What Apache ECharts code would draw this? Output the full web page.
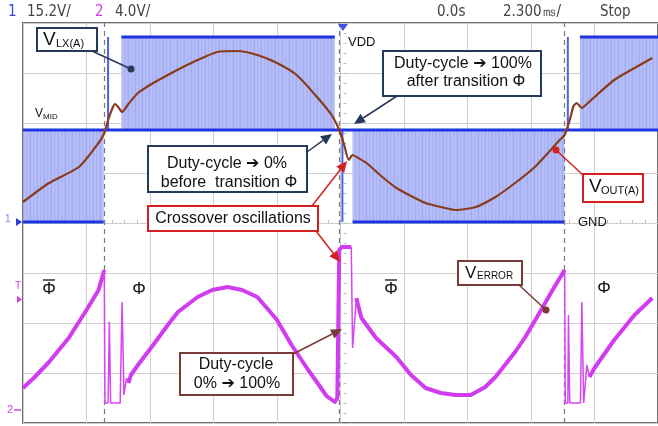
<!DOCTYPE html>
<html>
<head>
<meta charset="utf-8">
<script src="https://cdn.jsdelivr.net/npm/echarts@6/dist/echarts.min.js"></script>
<style>
  html, body { margin: 0; padding: 0; background: #fff; }
  #chart { width: 658px; height: 426px; }
</style>
</head>
<body>
<div id="chart"></div>
<script>
// screen units: x in divisions (0..10), y in divisions (0 = bottom, 8 = top)
var transitions = [1.28, 4.98, 8.53];
var VDD = 7.72, VMID = 5.86, GND = 4.02;

// switching node envelope: [x0, x1, yLow, yHigh]
var lxBands = [
  [0.00, 1.27, GND, VMID],
  [1.55, 4.91, VMID, VDD],
  [5.19, 8.53, GND, VMID],
  [8.77, 10.0, VMID, VDD]
];
// solid rails: [x0, x1, y]
var lxRails = [
  [0.00, 10.0, VMID],
  [0.00, 1.27, GND],
  [1.55, 4.91, VDD],
  [5.19, 8.53, GND],
  [8.77, 10.0, VDD]
];
// isolated pulses at the transitions: [x, y0, y1]
var lxSpikes = [
  [1.34, VMID, VDD],
  [5.03, GND, VMID],
  [8.58, VMID, VDD]
];

var voutX = [0, 0.41, 0.88, 1.19, 1.28, 1.34, 1.41, 1.45, 1.50, 1.56, 1.66, 1.81, 2.05, 2.28, 2.52, 2.75,
  3.06, 3.38, 3.69, 4.00, 4.31, 4.63, 4.86, 4.98, 5.05, 5.13, 5.19, 5.28, 5.41, 5.64, 5.88, 6.11,
  6.34, 6.58, 6.81, 7.13, 7.44, 7.75, 8.06, 8.31, 8.45, 8.53, 8.61, 8.67, 8.72, 8.80, 8.88, 9.00,
  9.31, 9.63, 9.91];
var voutY = [4.42, 4.80, 5.12, 5.60, 5.80, 6.06, 6.30, 6.38, 6.32, 6.22, 6.38, 6.60, 6.80, 6.96, 7.12, 7.26,
  7.42, 7.44, 7.36, 7.20, 6.96, 6.52, 6.16, 5.86, 5.60, 5.26, 5.36, 5.30, 5.20, 4.94, 4.70, 4.54,
  4.40, 4.32, 4.26, 4.32, 4.52, 4.80, 5.12, 5.46, 5.66, 5.76, 6.06, 6.34, 6.40, 6.30, 6.38, 6.52,
  6.86, 7.10, 7.30];

// error amplifier output, smooth parts (null = break)
var verrX = [0, 0.17, 0.41, 0.72, 1.00, 1.19, 1.28, null,
  1.66, 1.70, 1.81, 2.05, 2.28, 2.44, 2.75, 2.98, 3.22, 3.45, 3.69, 3.84, 4.00, 4.23, 4.47, 4.66, 4.78,
  4.91, 4.95, 4.98, 5.02, 5.17, null,
  5.25, 5.28, 5.33, 5.56, 5.88, 6.11, 6.34, 6.58, 6.81, 7.05,
  7.28, 7.44, 7.59, 7.75, 7.91, 8.16, 8.34, 8.53, null,
  8.92, 9.00, 9.31, 9.63, 9.91];
var verrY = [0.70, 0.90, 1.22, 1.70, 2.26, 2.66, 3.06, null,
  0.80, 0.96, 1.16, 1.56, 1.96, 2.22, 2.52, 2.66, 2.72, 2.66, 2.52, 2.30, 2.06, 1.56, 1.10, 0.76, 0.54,
  0.42, 0.50, 3.46, 3.52, 3.52, null,
  2.50, 2.34, 2.10, 1.70, 1.32, 0.96, 0.70, 0.60, 0.56, 0.56,
  0.72, 0.92, 1.16, 1.42, 1.72, 2.26, 2.66, 3.06, null,
  0.92, 1.10, 1.66, 2.16, 2.50];
// error amplifier output, fast glitches at the transitions
var glitchX = [1.28, 1.29, 1.34, 1.36, 1.38, 1.53, 1.56, 1.59, 1.63, 1.66, null,
  5.17, 5.19, 5.25, null,
  8.53, 8.54, 8.58, 8.59, 8.61, 8.78, 8.80, 8.83, 8.86, 8.88, 8.92];
var glitchY = [3.06, 0.40, 0.40, 2.02, 0.40, 0.40, 2.42, 0.56, 0.90, 0.80, null,
  3.52, 1.50, 2.50, null,
  3.06, 0.40, 0.40, 2.16, 0.40, 0.40, 2.42, 0.40, 0.40, 1.16, 0.92];

function zip(xs, ys) {
  return xs.map(function (x, i) { return x === null ? [null, null] : [x, ys[i]]; });
}

// fine vertical texture for the switching envelope
var pat = document.createElement('canvas');
pat.width = 7; pat.height = 1;
var pctx = pat.getContext('2d');
['#b6bff7', '#adb6f5', '#a3adf3', '#b4bcf6', '#b8c0f7', '#a9b2f5', '#b1baf6'].forEach(function (c, i) {
  pctx.fillStyle = c; pctx.fillRect(i, 0, 1, 1);
});

var navy = '#263a58', red = '#d42020', brown = '#7a3a36';
var ff = 'Liberation Sans, DejaVu Sans, sans-serif';
var hf = 'DejaVu Sans Condensed, DejaVu Sans, sans-serif';

function txt(x, y, s, size, color, align, family) {
  return { type: 'text', x: x, y: y, z: 20,
    style: { text: s, font: size + 'px ' + (family || ff), fill: color || '#111',
      align: align || 'left', verticalAlign: 'middle' } };
}
function box(x, y, w, h, color) {
  return { type: 'rect', z: 15, shape: { x: x, y: y, width: w, height: h },
    style: { fill: '#fff', stroke: color, lineWidth: 2 } };
}
function seg(x1, y1, x2, y2, color, w) {
  return { type: 'line', z: 14, shape: { x1: x1, y1: y1, x2: x2, y2: y2 },
    style: { stroke: color, lineWidth: w || 1.5 } };
}
function dot(x, y, color) {
  return { type: 'circle', z: 16, shape: { cx: x, cy: y, r: 3.5 }, style: { fill: color } };
}
function arrow(x1, y1, x2, y2, color) {
  var a = Math.atan2(y2 - y1, x2 - x1), L = 11, W = 5;
  var bx = x2 - L * Math.cos(a), by = y2 - L * Math.sin(a);
  return [
    seg(x1, y1, bx, by, color, 1.5),
    { type: 'polygon', z: 16, shape: { points: [[x2, y2],
      [bx + W * Math.sin(a), by - W * Math.cos(a)],
      [bx - W * Math.sin(a), by + W * Math.cos(a)]] }, style: { fill: color } }
  ];
}

var graphics = [
  // header
  txt(8, 12, '1', 15, '#3348d6', 'left', hf),
  txt(27, 12, '15.2V/', 15, '#444', 'left', hf),
  txt(95, 12, '2', 15, '#d23be6', 'left', hf),
  txt(115, 12, '4.0V/', 15, '#444', 'left', hf),
  txt(437, 12, '0.0s', 15, '#444', 'left', hf),
  txt(503, 12, '2.300㎳/', 15, '#444', 'left', hf),
  txt(600, 12, 'Stop', 15, '#444', 'left', hf),
  { type: 'polygon', z: 20, shape: { points: [[338, 24], [348, 24], [343, 31]] }, style: { fill: '#4055e0' } },
  // left channel markers
  txt(5, 219, '1', 10, '#7c8cf0'),
  { type: 'polygon', z: 20, shape: { points: [[16, 218], [22, 222], [16, 226]] }, style: { fill: '#2a3fd8' } },
  txt(15, 286, 'T', 10, '#d23be6'),
  { type: 'polygon', z: 20, shape: { points: [[17, 296], [22, 299.5], [17, 303]] }, style: { fill: '#d23be6' } },
  txt(7, 410, '2', 11, '#d23be6'),
  seg(14, 410, 21, 410, '#d23be6', 1.5),
  // VLX(A)
  box(37, 28, 60, 23, navy),
  txt(43, 40, 'V', 19, '#111'),
  txt(56, 44, 'LX(A)', 11, '#111'),
  seg(92, 51, 131, 69, navy, 1.5),
  dot(131, 69, navy),
  // VMID, VDD, GND
  txt(35, 114, 'V', 12, '#111'),
  txt(43, 117, 'MID', 8, '#111'),
  txt(348, 42, 'VDD', 13, '#111'),
  txt(578, 222, 'GND', 13, '#111'),
  // duty-cycle -> 100%
  box(383, 51, 158, 45, navy),
  txt(463, 64, 'Duty-cycle ➔ 100%', 16, '#111', 'center'),
  txt(466, 82, 'after transition Φ', 16, '#111', 'center'),
  // duty-cycle -> 0%
  box(148, 146, 159, 46, navy),
  txt(227, 164, 'Duty-cycle ➔ 0%', 16, '#111', 'center'),
  txt(229, 183, 'before  transition Φ', 16, '#111', 'center'),
  // crossover
  box(148, 206, 170, 25, red),
  txt(233, 219, 'Crossover oscillations', 16, '#111', 'center'),
  // VOUT(A)
  box(583, 174, 60, 28, red),
  txt(589, 187, 'V', 19, '#111'),
  txt(601, 191, 'OUT(A)', 11, '#111'),
  seg(584, 176, 556, 150, red, 1.5),
  dot(556, 150, red),
  // duty-cycle 0% -> 100%
  box(180, 353, 113, 42, brown),
  txt(236, 365, 'Duty-cycle', 16, '#111', 'center'),
  txt(237, 384, '0% ➔ 100%', 16, '#111', 'center'),
  // VERROR
  box(458, 261, 64, 24, brown),
  txt(465, 273, 'V', 17, '#111'),
  txt(477, 276, 'ERROR', 10, '#111'),
  seg(519, 285, 546, 310, brown, 1.5),
  dot(546, 310, brown),
  // phase labels
  txt(49, 289, 'Φ', 17, '#111', 'center'),
  seg(43, 280, 55, 280, '#111', 1.3),
  txt(139, 289, 'Φ', 17, '#111', 'center'),
  txt(391, 289, 'Φ', 17, '#111', 'center'),
  seg(385, 280, 397, 280, '#111', 1.3),
  txt(604, 288, 'Φ', 17, '#111', 'center')
];
graphics = graphics
  .concat(arrow(397, 96, 354, 124, navy))
  .concat(arrow(307, 152, 332, 134, navy))
  .concat(arrow(312, 206, 347, 161, red))
  .concat(arrow(316, 231, 340, 262, red))
  .concat(arrow(293, 354, 342, 329, brown));

var hiddenAxis = { axisLine: { show: false }, axisLabel: { show: false } };
var chart = echarts.init(document.getElementById('chart'));
chart.setOption({
  animation: false,
  grid: { left: 23, top: 23, width: 641, height: 400, show: true,
    borderColor: '#707070', borderWidth: 2, backgroundColor: 'transparent' },
  xAxis: [
    { type: 'value', min: 0, max: 10, interval: 1,
      axisLine: { show: false }, axisTick: { show: false }, axisLabel: { show: false },
      splitLine: { lineStyle: { color: '#cfcfcf', width: 1 } } },
    // graticule minor ticks on the centre line
    { type: 'value', min: 0, max: 10, interval: 1, position: 'bottom', offset: -200,
      axisLine: { show: false }, axisLabel: { show: false }, splitLine: { show: false },
      axisTick: { show: true, inside: true, length: 4, lineStyle: { color: '#bdbdbd' } },
      minorTick: { show: true, splitNumber: 5, length: 3, lineStyle: { color: '#bdbdbd' } } }
  ],
  yAxis: [
    { type: 'value', min: 0, max: 8, interval: 1,
      axisLine: { show: false }, axisTick: { show: false }, axisLabel: { show: false },
      splitLine: { lineStyle: { color: '#cfcfcf', width: 1 } } },
    { type: 'value', min: 0, max: 8, interval: 1, position: 'left', offset: -320.5,
      axisLine: { show: false }, axisLabel: { show: false }, splitLine: { show: false },
      axisTick: { show: true, inside: true, length: 4, lineStyle: { color: '#bdbdbd' } },
      minorTick: { show: true, splitNumber: 5, length: 3, lineStyle: { color: '#bdbdbd' } } }
  ],
  graphic: graphics,
  series: [
    {
      type: 'custom', name: 'lxBands', clip: true, z: 2,
      data: lxBands,
      renderItem: function (params, api) {
        var p0 = api.coord([api.value(0), api.value(3)]);
        var p1 = api.coord([api.value(1), api.value(2)]);
        return { type: 'rect', shape: { x: p0[0], y: p0[1], width: p1[0] - p0[0], height: p1[1] - p0[1] },
          style: { fill: { image: pat, repeat: 'repeat' } } };
      }
    },
    {
      type: 'custom', name: 'lxSpikes', clip: true, z: 3,
      data: lxSpikes,
      renderItem: function (params, api) {
        var a = api.coord([api.value(0), api.value(1)]);
        var b = api.coord([api.value(0), api.value(2)]);
        return { type: 'line', shape: { x1: a[0], y1: a[1], x2: b[0], y2: b[1] },
          style: { stroke: '#4c60ea', lineWidth: 2 } };
      }
    },
    {
      type: 'custom', name: 'lxRails', clip: true, z: 4,
      data: lxRails,
      renderItem: function (params, api) {
        var a = api.coord([api.value(0), api.value(2)]);
        var b = api.coord([api.value(1), api.value(2)]);
        return { type: 'line', shape: { x1: a[0], y1: a[1], x2: b[0], y2: b[1] },
          style: { stroke: '#1f35e0', lineWidth: 3 } };
      }
    },
    {
      type: 'line', name: 'VOUT', z: 6, data: zip(voutX, voutY), showSymbol: false, smooth: 0.2,
      lineStyle: { color: '#8a3b1c', width: 2.2 },
      markLine: { silent: true, symbol: 'none', label: { show: false },
        lineStyle: { color: '#7a7a7a', type: [5, 4], width: 1.2 },
        data: transitions.map(function (x) { return { xAxis: x }; }) }
    },
    {
      type: 'line', name: 'VERROR', z: 6, data: zip(verrX, verrY), showSymbol: false, connectNulls: false,
      lineStyle: { color: '#d23cf0', width: 4, join: 'round' }
    },
    {
      type: 'line', name: 'VERRORglitch', z: 6, data: zip(glitchX, glitchY), showSymbol: false, connectNulls: false,
      lineStyle: { color: '#d645f2', width: 1.5 }
    }
  ]
});
</script>
</body>
</html>
